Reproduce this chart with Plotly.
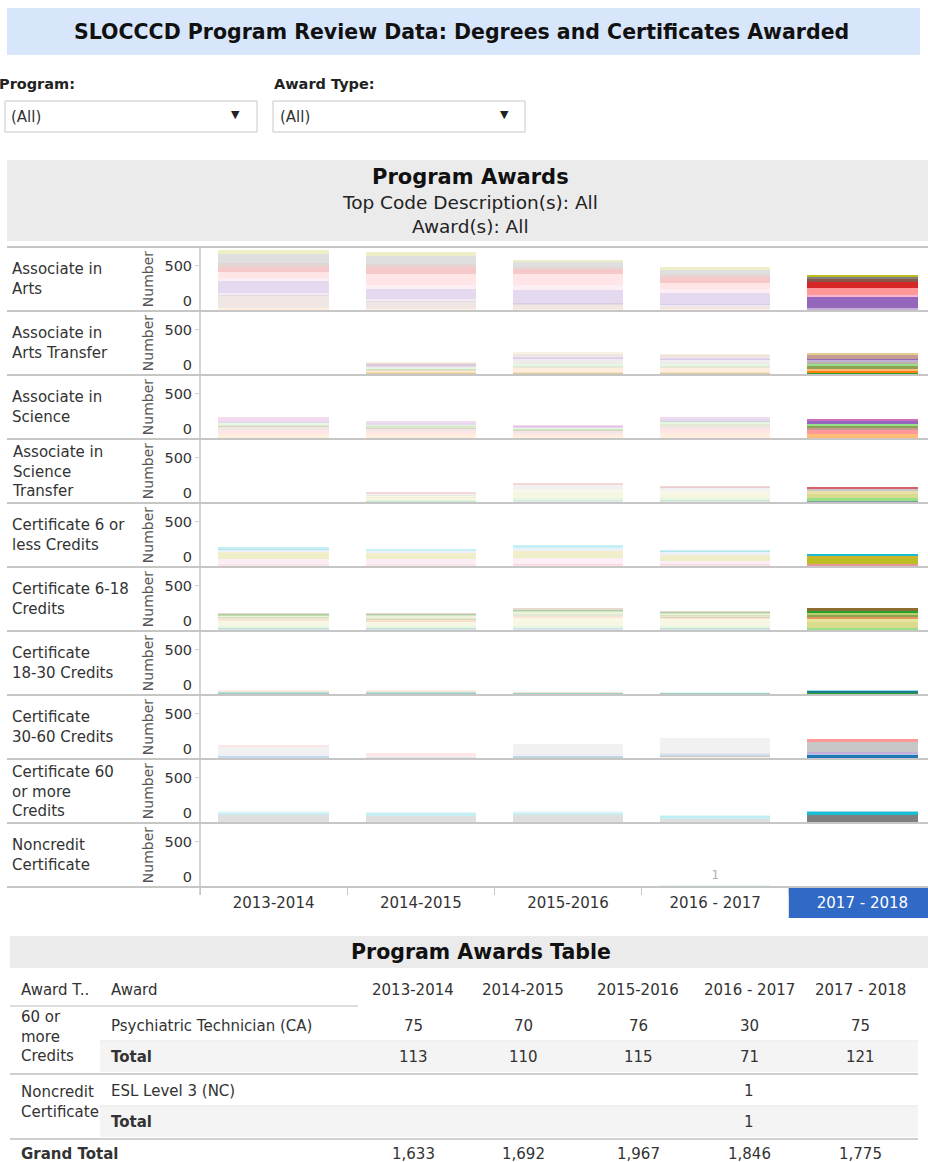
import plotly.graph_objects as go
from plotly.subplots import make_subplots

W, H = 928, 1162
FONT = "DejaVu Sans"

years = ["2013-2014", "2014-2015", "2015-2016", "2016 - 2017", "2017 - 2018"]
highlight_year = "2017 - 2018"

award_labels = [
    "Associate in<br>Arts",
    "Associate in<br>Arts Transfer",
    "Associate in<br>Science",
    "Associate in<br>Science<br>Transfer",
    "Certificate 6 or<br>less Credits",
    "Certificate 6-18<br>Credits",
    "Certificate<br>18-30 Credits",
    "Certificate<br>30-60 Credits",
    "Certificate 60<br>or more<br>Credits",
    "Noncredit<br>Certificate",
]

# stacked segments, bottom -> top; each list = values for the 5 years
aa_colors = ["#ffbb78", "#c49c94", "#c5b0d5", "#9467bd", "#f7b6d2",
             "#ff9896", "#d62728", "#8c564b", "#7f7f7f", "#bcbd22"]
aa_values = [
    [19, 10, 10, 8, 0],
    [150, 90, 53, 40, 0],
    [19, 20, 10, 10, 18],
    [144, 120, 150, 130, 135],
    [30, 40, 60, 50, 18],
    [72, 130, 120, 62, 77],
    [57, 75, 56, 75, 70],
    [38, 35, 30, 30, 30],
    [100, 90, 50, 50, 30],
    [51, 50, 31, 26, 17],
]

aat_colors = ["#2ca02c", "#ff7f0e", "#ffbb78", "#8ca252", "#98df8a",
              "#bab0ac", "#c5b0d5", "#9467bd", "#c49c94", "#e7cb94"]
aat_values = [
    [0, 5, 8, 8, 12],
    [0, 10, 20, 20, 30],
    [0, 25, 40, 40, 20],
    [0, 15, 25, 25, 35],
    [0, 15, 25, 25, 20],
    [0, 20, 35, 30, 25],
    [0, 10, 25, 20, 20],
    [0, 5, 12, 10, 13],
    [0, 15, 35, 32, 40],
    [0, 10, 25, 20, 20],
]

as_colors = ["#ffbb78", "#ff9896", "#c49c94", "#8ca252", "#98df8a",
             "#9467bd", "#ce6dbd"]
as_values = [
    [50, 40, 30, 60, 50],
    [40, 35, 25, 40, 35],
    [40, 35, 30, 40, 25],
    [20, 20, 15, 20, 30],
    [25, 20, 15, 30, 20],
    [20, 17, 17, 20, 35],
    [40, 30, 20, 30, 25],
]

ast_colors = ["#7f9fa0", "#98df8a", "#dbdb8d", "#e8e0a8", "#c7c7c7", "#d6616b"]
ast_values = [
    [0, 10, 20, 15, 20],
    [0, 15, 25, 25, 20],
    [0, 30, 60, 55, 55],
    [0, 20, 40, 30, 25],
    [0, 20, 45, 40, 30],
    [0, 15, 25, 20, 20],
]

c6_colors = ["#e7969c", "#f7b6d2", "#bcbd22", "#d4b32a", "#aec7e8", "#17becf"]
c6_values = [
    [20, 20, 15, 15, 20],
    [60, 55, 75, 45, 0],
    [50, 45, 55, 45, 70],
    [30, 30, 30, 20, 25],
    [30, 25, 25, 40, 0],
    [20, 15, 40, 15, 15],
]

c618_colors = ["#5b8db8", "#98df8a", "#dbdb8d", "#e8e4a0", "#e6955a",
               "#8ca252", "#b5cf6b", "#2ca02c", "#8c6d31"]
c618_values = [
    [15, 15, 20, 15, 10],
    [30, 30, 30, 25, 15],
    [30, 30, 40, 45, 60],
    [30, 25, 40, 40, 40],
    [20, 20, 25, 20, 20],
    [20, 20, 25, 20, 30],
    [20, 20, 25, 20, 20],
    [10, 10, 15, 10, 20],
    [20, 20, 30, 20, 35],
]

c1830_colors = ["#2ca02c", "#1a7f8e", "#9edae5", "#ffbb78"]
c1830_values = [
    [10, 10, 5, 5, 10],
    [10, 10, 5, 5, 24],
    [10, 10, 5, 8, 10],
    [20, 20, 5, 0, 0],
]

c3060_colors = ["#ffbb78", "#1f77b4", "#aec7e8", "#c5b0d5", "#c7c7c7", "#ff9896"]
c3060_values = [
    [0, 0, 10, 15, 0],
    [15, 0, 10, 10, 30],
    [20, 0, 15, 20, 25],
    [10, 5, 5, 5, 15],
    [80, 15, 115, 175, 110],
    [25, 35, 0, 0, 30],
]

# Psychiatric Technician (CA) is the grey segment
psych_tech = [75, 70, 76, 30, 75]
c60_colors = ["#7f7f7f", "#17becf", "#9edae5"]
c60_values = [
    psych_tech,
    [30, 32, 31, 35, 40],
    [8, 8, 8, 6, 6],
]

esl_level3 = [0, 0, 0, 1, 0]
nc_colors = ["#9edae5"]
nc_values = [esl_level3]

rows = [
    (aa_colors, aa_values),
    (aat_colors, aat_values),
    (as_colors, as_values),
    (ast_colors, ast_values),
    (c6_colors, c6_values),
    (c618_colors, c618_values),
    (c1830_colors, c1830_values),
    (c3060_colors, c3060_values),
    (c60_colors, c60_values),
    (nc_colors, nc_values),
]

# table values
cert60_total = [113, 110, 115, 71, 121]
noncredit_total = [None, None, None, 1, None]
grand_total = [1633, 1692, 1967, 1846, 1775]


def px(x):
    return x / W


def py(y):
    return 1 - y / H


x_idx = list(range(len(years)))
opacity = [1 if y == highlight_year else 0.25 for y in years]

fig = make_subplots(rows=10, cols=1, shared_xaxes=True, vertical_spacing=0)

for r, (colors, values) in enumerate(rows, start=1):
    for color, vals in zip(colors, values):
        is_nc = r == 10
        fig.add_trace(
            go.Bar(
                x=x_idx,
                y=vals,
                width=0.75,
                marker=dict(color=color, opacity=opacity, line_width=0),
                text=[str(v) if v else "" for v in vals] if is_nc else None,
                textposition="outside" if is_nc else None,
                textfont=dict(color="#b0b0b0", size=12, family=FONT),
                cliponaxis=False,
                showlegend=False,
            ),
            row=r,
            col=1,
        )

ROW_TOP = 247
ROW_H = 64

for i in range(10):
    top = ROW_TOP + ROW_H * i
    bottom = top + ROW_H
    yname = "yaxis" if i == 0 else f"yaxis{i + 1}"
    xname = "xaxis" if i == 0 else f"xaxis{i + 1}"
    fig.layout[yname].update(
        domain=[py(bottom - 1), py(top + 1)],
        range=[0, 700],
        tickvals=[0, 500],
        ticktext=["0<br> ", "500"],
        ticks="outside",
        ticklen=4,
        tickcolor="#d0d0d0",
        tickfont=dict(size=14.5, color="#333333", family=FONT),
        showgrid=False,
        zeroline=False,
        showline=False,
        title=dict(text="Number", font=dict(size=14, color="#555555", family=FONT), standoff=7),
    )
    fig.layout[xname].update(
        domain=[px(200), 1],
        range=[-0.5, 4.5 - 8 / 147],
        showgrid=False,
        zeroline=False,
        showline=False,
        showticklabels=False,
        ticks="",
    )

tick_text = [f'<span style="color:#ffffff">{y}</span>' if y == highlight_year else y for y in years]
fig.layout["xaxis10"].update(
    showticklabels=True,
    tickvals=x_idx,
    ticktext=tick_text,
    tickfont=dict(size=15, color="#333333", family=FONT),
    ticks="outside",
    ticklen=3,
    tickcolor="rgba(0,0,0,0)",
    minor=dict(tickvals=[-0.5, 0.5, 1.5, 2.5, 3.5], ticks="outside", ticklen=8, tickcolor="#c6c6c6"),
)

shapes = []


def rect(x0, y0, x1, y1, fill, line_color=None, line_width=0):
    shapes.append(dict(
        type="rect", xref="paper", yref="paper",
        x0=px(x0), x1=px(x1), y0=py(y1), y1=py(y0),
        fillcolor=fill, line=dict(color=line_color or fill, width=line_width),
        layer="below",
    ))


def hline(y, x0, x1, color, width):
    shapes.append(dict(
        type="line", xref="paper", yref="paper",
        x0=px(x0), x1=px(x1), y0=py(y), y1=py(y),
        line=dict(color=color, width=width),
    ))


# title banner and filters
rect(7, 8, 920, 55, "#d7e6fb")
rect(5, 101, 257, 132, "#ffffff", "#c8c8c8", 1)
rect(273, 101, 525, 132, "#ffffff", "#c8c8c8", 1)
rect(7, 160, 928, 241, "#ebebeb")

# row separators and axis line
for i in range(11):
    hline(ROW_TOP + ROW_H * i, 7, 928, "#c6c6c6", 2)
shapes.append(dict(type="line", xref="paper", yref="paper",
                   x0=px(200), x1=px(200), y0=py(247), y1=py(895),
                   line=dict(color="#c6c6c6", width=1.5)))

# highlighted year header
shapes.append(dict(type="rect", xref="x10", yref="paper",
                   x0=3.5, x1=4.5, y0=py(918), y1=py(888),
                   fillcolor="#3169c6", line_width=0, layer="below"))

# table
rect(10, 936, 928, 968, "#ebebeb")
rect(100, 1042, 918, 1072, "#f4f4f4")
rect(100, 1107, 918, 1137, "#f4f4f4")
hline(1006, 10, 358, "#bdbdbd", 1)
hline(1041, 100, 918, "#e2e2e2", 1)
hline(1106, 100, 918, "#e2e2e2", 1)
hline(1074, 10, 918, "#cfcfcf", 2)
hline(1139, 10, 918, "#cfcfcf", 2)

annotations = []


def text(x, y, s, size=14, bold=False, color="#333333", xanchor="left", align="left"):
    annotations.append(dict(
        x=px(x), y=py(y), xref="paper", yref="paper", text=f"<b>{s}</b>" if bold else s,
        showarrow=False, xanchor=xanchor, yanchor="middle", align=align,
        font=dict(size=size, color=color, family=FONT),
    ))


text(461, 32, "SLOCCCD Program Review Data: Degrees and Certificates Awarded", 20.5, True, "#111111", "center")
text(-3, 84, "Program:", 14.5, True, "#222222")
text(272, 84, "Award Type:", 14.5, True, "#222222")
text(9, 117, "(All)", 15)
text(278, 117, "(All)", 15)
text(236, 115, "▼", 11, False, "#222222", "center")
text(504, 115, "▼", 11, False, "#222222", "center")
text(470, 177, "Program Awards", 21, True, "#111111", "center")
text(470, 203, "Top Code Description(s): All", 18.5, False, "#222222", "center")
text(470, 227, "Award(s): All", 18.5, False, "#222222", "center")

for i, label in enumerate(award_labels):
    text(10, ROW_TOP + ROW_H * i + ROW_H / 2, label, 15, False, "#333333")

text(481, 952, "Program Awards Table", 20.5, True, "#111111", "center")

col_x = [413, 523, 638, 749, 860]
text(19, 990, "Award T..", 15)
text(109, 990, "Award", 15)
for cx, y in zip(col_x, years):
    text(cx, 990, y, 15, False, "#333333", "center")


def table_row(y, values, fmt="{}"):
    for cx, v in zip(col_x, values):
        if v:
            text(cx, y, fmt.format(v), 15, False, "#333333", "center")


text(19, 1036, "60 or<br>more<br>Credits", 15)
text(109, 1026, "Psychiatric Technician (CA)", 15)
table_row(1026, psych_tech)
text(109, 1057, "Total", 15, True)
table_row(1057, cert60_total)

text(19, 1102, "Noncredit<br>Certificate", 15)
text(109, 1091, "ESL Level 3 (NC)", 15)
table_row(1091, esl_level3)
text(109, 1122, "Total", 15, True)
table_row(1122, noncredit_total)

text(19, 1154, "Grand Total", 15, True)
table_row(1154, grand_total, "{:,}")

fig.update_layout(
    width=W,
    height=H,
    margin=dict(l=0, r=0, t=0, b=0, autoexpand=False),
    barmode="stack",
    plot_bgcolor="#ffffff",
    paper_bgcolor="#ffffff",
    font=dict(family=FONT),
    shapes=shapes,
    annotations=annotations,
    showlegend=False,
)

# page body has a default 8px margin; drop it so the figure fills the window
fig.write_html(
    "out.html",
    config={"displayModeBar": False},
    post_script="document.body.style.margin = '0px';",
)
